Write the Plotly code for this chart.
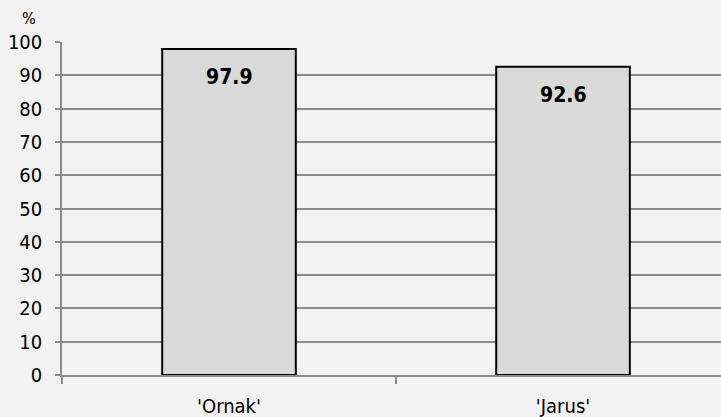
import plotly.graph_objects as go

categories = ["'Ornak'", "'Jarus'"]
values = [97.9, 92.6]
value_labels = ["97.9", "92.6"]
y_ticks = list(range(0, 101, 10))

FONT = "DejaVu Sans Condensed, Tahoma, DejaVu Sans, sans-serif"
GRID = "#8c8c8c"

fig = go.Figure()
fig.add_trace(go.Bar(
    x=categories, y=values, width=0.4,
    marker=dict(color="#d9d9d9", line=dict(color="#000000", width=2)),
    hoverinfo="skip",
))

for c, v, t in zip(categories, values, value_labels):
    fig.add_annotation(x=c, y=v, text="<b>%s</b>" % t, showarrow=False,
                       yanchor="top", yshift=-14,
                       font=dict(family=FONT, size=21, color="#000000"))

fig.add_annotation(xref="paper", yref="paper", x=-0.050, y=1.072, text="%",
                   showarrow=False, xanchor="center", yanchor="middle",
                   font=dict(family=FONT, size=16, color="#000000"))

fig.update_layout(
    width=721, height=417,
    margin=dict(l=62, r=0, t=42, b=42),
    paper_bgcolor="#f2f2f2", plot_bgcolor="#f2f2f2",
    showlegend=False,
    bargap=0.6,
)
fig.update_xaxes(
    range=[-0.5, 1.473], tickson="boundaries", ticks="outside", ticklen=7,
    tickcolor=GRID, tickwidth=1.5, showline=True, linecolor=GRID, linewidth=1.5,
    showgrid=False, tickfont=dict(family=FONT, size=20, color="#000000"),
    ticklabelstandoff=12,
)
fig.update_yaxes(
    range=[0, 100], tickvals=y_ticks, ticks="outside", ticklen=5,
    tickcolor=GRID, tickwidth=1.5, showline=True, linecolor=GRID, linewidth=1.5,
    showgrid=True, gridcolor=GRID, gridwidth=1.5, zeroline=False,
    tickfont=dict(family=FONT, size=20, color="#000000"),
    ticklabelstandoff=9,
)

fig.write_html("out.html")
